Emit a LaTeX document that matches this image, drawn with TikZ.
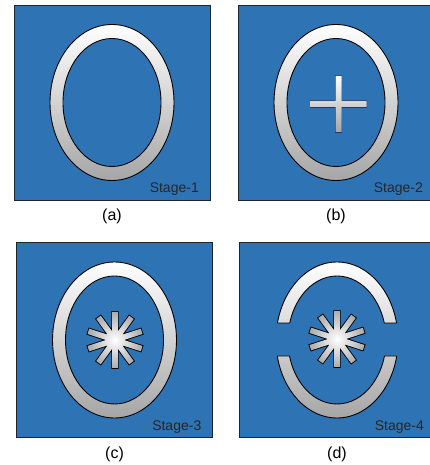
\documentclass[tikz,border=0pt]{standalone}
\usepackage{fontspec}
\setmainfont{Liberation Sans}
\usepackage{xcolor}
\definecolor{stgblue}{HTML}{2E74B5}
\definecolor{stgnavy}{HTML}{1F3864}
\definecolor{stgedge}{HTML}{1A2530}
\usepackage{tikz}
\usetikzlibrary{positioning,calc}
\tikzset{
  stgpanel/.style={draw=stgedge,line width=0.9pt,fill=stgblue,minimum width=196pt,minimum height=195pt,inner sep=0pt,outer sep=0pt},
  stgshade/.style={top color=white,bottom color=gray!70,even odd rule},
  stgline/.style={draw=black,line width=0.9pt},
  stgstar/.style={inner color=white,outer color=gray!65},
  stgtag/.style={font=\fontsize{14}{16}\selectfont,text=black!85,inner sep=0pt,anchor=base east},
  stgcap/.style={font=\fontsize{16}{18}\selectfont,inner sep=2pt},
}

\begin{document}
\begin{tikzpicture}[x=1pt,y=1pt]
\useasboundingbox (0,0) rectangle (429,465);
% the four panels
\node[stgpanel] (pa) at (112,362.5) {};
\node[stgpanel] (pb) at (336,362.5) {};
\node[stgpanel] (pc) at (114.5,125) {};
\node[stgpanel] (pd) at (337,125) {};
\node[stgtag] (ta) at ([shift={(-11pt,7pt)}]pa.south east) {Stage-1};
\node[stgtag] (tb) at ([shift={(-11pt,7pt)}]pb.south east) {Stage-2};
\node[stgtag] (tc) at ([shift={(-11pt,7pt)}]pc.south east) {Stage-3};
\node[stgtag] (td) at ([shift={(-11pt,7pt)}]pd.south east) {Stage-4};
\node[stgcap,below=7pt of pa] (ca) {(a)};
\node[stgcap,below=7pt of pb] (cb) {(b)};
\node[stgcap,below=7pt of pc] (cc) {(c)};
\node[stgcap,below=7pt of pd] (cd) {(d)};
% whole rings
\foreach \p in {pa,pb,pc}{
  \shade[stgshade] (\p.center) ellipse[x radius=62pt,y radius=78pt] (\p.center) ellipse[x radius=49pt,y radius=64pt];
  \draw[stgline] (\p.center) ellipse[x radius=62pt,y radius=78pt] (\p.center) ellipse[x radius=49pt,y radius=64pt];
}
% split ring
\coordinate (sd) at (pd.center);
\begin{scope}
  \clip ([shift={(-70pt,17pt)}]sd) rectangle ([shift={(70pt,90pt)}]sd)
        ([shift={(-70pt,-16pt)}]sd) rectangle ([shift={(70pt,-90pt)}]sd);
  \shade[stgshade] (sd) ellipse[x radius=61pt,y radius=78pt] (sd) ellipse[x radius=49pt,y radius=64pt];
  \draw[stgline] (sd) ellipse[x radius=61pt,y radius=78pt] (sd) ellipse[x radius=49pt,y radius=64pt];
\end{scope}
\draw[stgline] ([shift={(sd)}]12.59:61pt and 78pt) -- ([shift={(sd)}]15.40:49pt and 64pt);
\draw[stgline] ([shift={(sd)}]167.41:61pt and 78pt) -- ([shift={(sd)}]164.60:49pt and 64pt);
\draw[stgline] ([shift={(sd)}]-11.84:61pt and 78pt) -- ([shift={(sd)}]-14.48:49pt and 64pt);
\draw[stgline] ([shift={(sd)}]-168.16:61pt and 78pt) -- ([shift={(sd)}]-165.52:49pt and 64pt);
% cross
\coordinate (xb) at ([shift={(2.5pt,-1.5pt)}]pb.center);
\draw[draw=stgnavy,line width=1.8pt] ([shift={(-28pt,-3pt)}]xb) rectangle ([shift={(28pt,3pt)}]xb)
  ([shift={(-3pt,-28pt)}]xb) rectangle ([shift={(3pt,28pt)}]xb);
\shade[top color=white,bottom color=gray!70] ([shift={(-28pt,-3pt)}]xb) rectangle ([shift={(28pt,3pt)}]xb)
  ([shift={(-3pt,-28pt)}]xb) rectangle ([shift={(3pt,28pt)}]xb);
% stars
\coordinate (sc) at ([shift={(0.5pt,0pt)}]pc.center);
\coordinate (se) at ([shift={(0pt,1pt)}]pd.center);
\foreach \s in {sc,se}{
  \draw[line width=1.8pt] \foreach \a in {18,54,...,342}{ (\s) ++(\a+90:2.8pt) -- ++(\a:28pt) -- ++(\a-90:5.6pt) -- ++(\a+180:28pt) -- cycle };
  \shade[stgstar] \foreach \a in {18,54,...,342}{ (\s) ++(\a+90:2.8pt) -- ++(\a:28pt) -- ++(\a-90:5.6pt) -- ++(\a+180:28pt) -- cycle };
}
\end{tikzpicture}
\end{document}
